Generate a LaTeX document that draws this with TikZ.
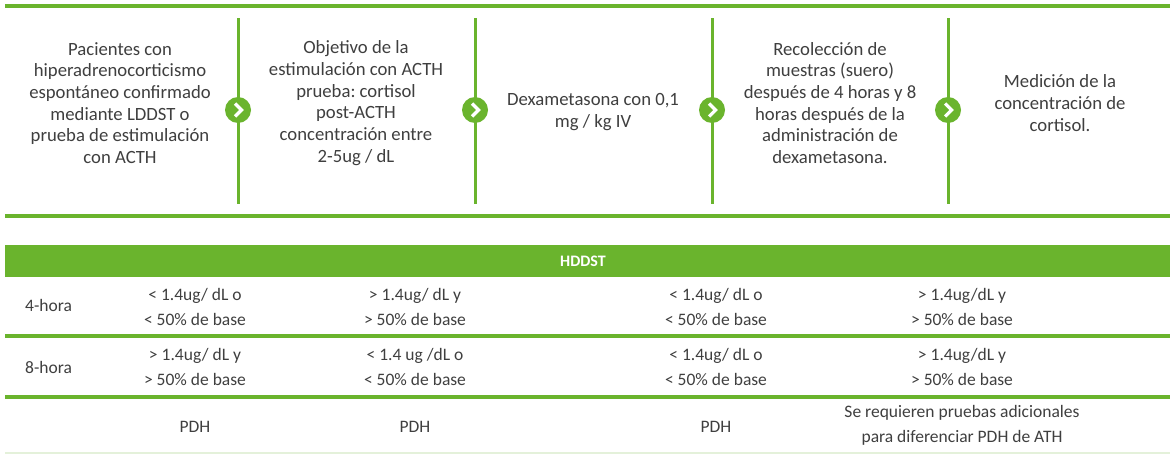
\documentclass[tikz,border=0pt]{standalone}
\usepackage{fontspec}
\setmainfont{Carlito}
\frenchspacing
\definecolor{grn}{HTML}{6AB42D}
\definecolor{txt}{HTML}{3F3F3F}
\definecolor{faint}{HTML}{E4F1DA}
\begin{document}
\begin{tikzpicture}[x=1pt,y=-1pt,
  steptext/.style={text=txt, align=center, font=\fontsize{18.7}{21.7}\selectfont, inner sep=0pt},
  cell/.style={text=txt, align=center, font=\fontsize{17.5}{25}\selectfont, inner sep=0pt},
  rowlabel/.style={text=txt, anchor=west, font=\fontsize{17.5}{25}\selectfont, inner sep=0pt},
  hrule/.style={draw=grn, line width=3.5pt},
  divider/.style={draw=grn, line width=3pt},
  chev/.style={circle, fill=grn, minimum size=26pt, inner sep=0pt},
  chevmark/.style={draw=white, line width=3.2pt},
]
\useasboundingbox (0,0) rectangle (1174,455);
\fill[white] (0,0) rectangle (1174,455);

% ---------- top process ----------
\draw[hrule] (5,6) -- (1170,6);
\draw[hrule] (5,216) -- (1170,216);

\foreach \x/\n in {238/c1,475/c2,712/c3,948/c4}{
  \draw[divider] (\x,18) -- (\x,204);
  \node[chev] (\n) at (\x,110) {};
  \draw[chevmark] ([xshift=-3pt,yshift=6.5pt]\n.center) -- ([xshift=3.5pt]\n.center) -- ([xshift=-3pt,yshift=-6.5pt]\n.center);
}

\node[steptext] (s1) at (120,103) {Pacientes con\\hiperadrenocorticismo\\espontáneo confirmado\\mediante LDDST o\\prueba de estimulación\\con ACTH};
\node[steptext] (s2) at (356,103) {Objetivo de la\\estimulación con ACTH\\prueba: cortisol\\post-ACTH\\concentración entre\\2-5ug / dL};
\node[steptext] (s3) at (593,112) {Dexametasona con 0,1\\mg / kg IV};
\node[steptext] (s4) at (830,103) {Recolección de\\muestras (suero)\\después de 4 horas y 8\\horas después de la\\administración de\\dexametasona.};
\node[steptext] (s5) at (1060,103) {Medición de la\\concentración de\\cortisol.};

% ---------- table ----------
\fill[grn] (5,245) rectangle (1170,277);
\node[text=white, font=\fontsize{16}{19}\selectfont\bfseries, inner sep=0pt] (hd) at (583,261) {HDDST};
\draw[hrule] (5,336) -- (1170,336);
\draw[hrule] (5,397) -- (1170,397);
\draw[draw=faint, line width=1.5pt] (5,453) -- (1170,453);

\node[rowlabel] (r1) at (25,305) {4-hora};
\node[rowlabel] (r2) at (25,367) {8-hora};

\node[cell] (a1) at (195,307) {< 1.4ug/ dL o\\< 50\% de base};
\node[cell] (a2) at (415,307) {> 1.4ug/ dL y\\> 50\% de base};
\node[cell] (a3) at (716,307) {< 1.4ug/ dL o\\< 50\% de base};
\node[cell] (a4) at (962,307) {> 1.4ug/dL y\\> 50\% de base};

\node[cell] (b1) at (195,367) {> 1.4ug/ dL y\\> 50\% de base};
\node[cell] (b2) at (415,367) {< 1.4 ug /dL o\\< 50\% de base};
\node[cell] (b3) at (716,367) {< 1.4ug/ dL o\\< 50\% de base};
\node[cell] (b4) at (962,367) {> 1.4ug/dL y\\> 50\% de base};

\node[cell] (p1) at (195,427) {PDH};
\node[cell] (p2) at (415,427) {PDH};
\node[cell] (p3) at (716,427) {PDH};
\node[cell] (p4) at (962,425) {Se requieren pruebas adicionales\\para diferenciar PDH de ATH};
\end{tikzpicture}
\end{document}
